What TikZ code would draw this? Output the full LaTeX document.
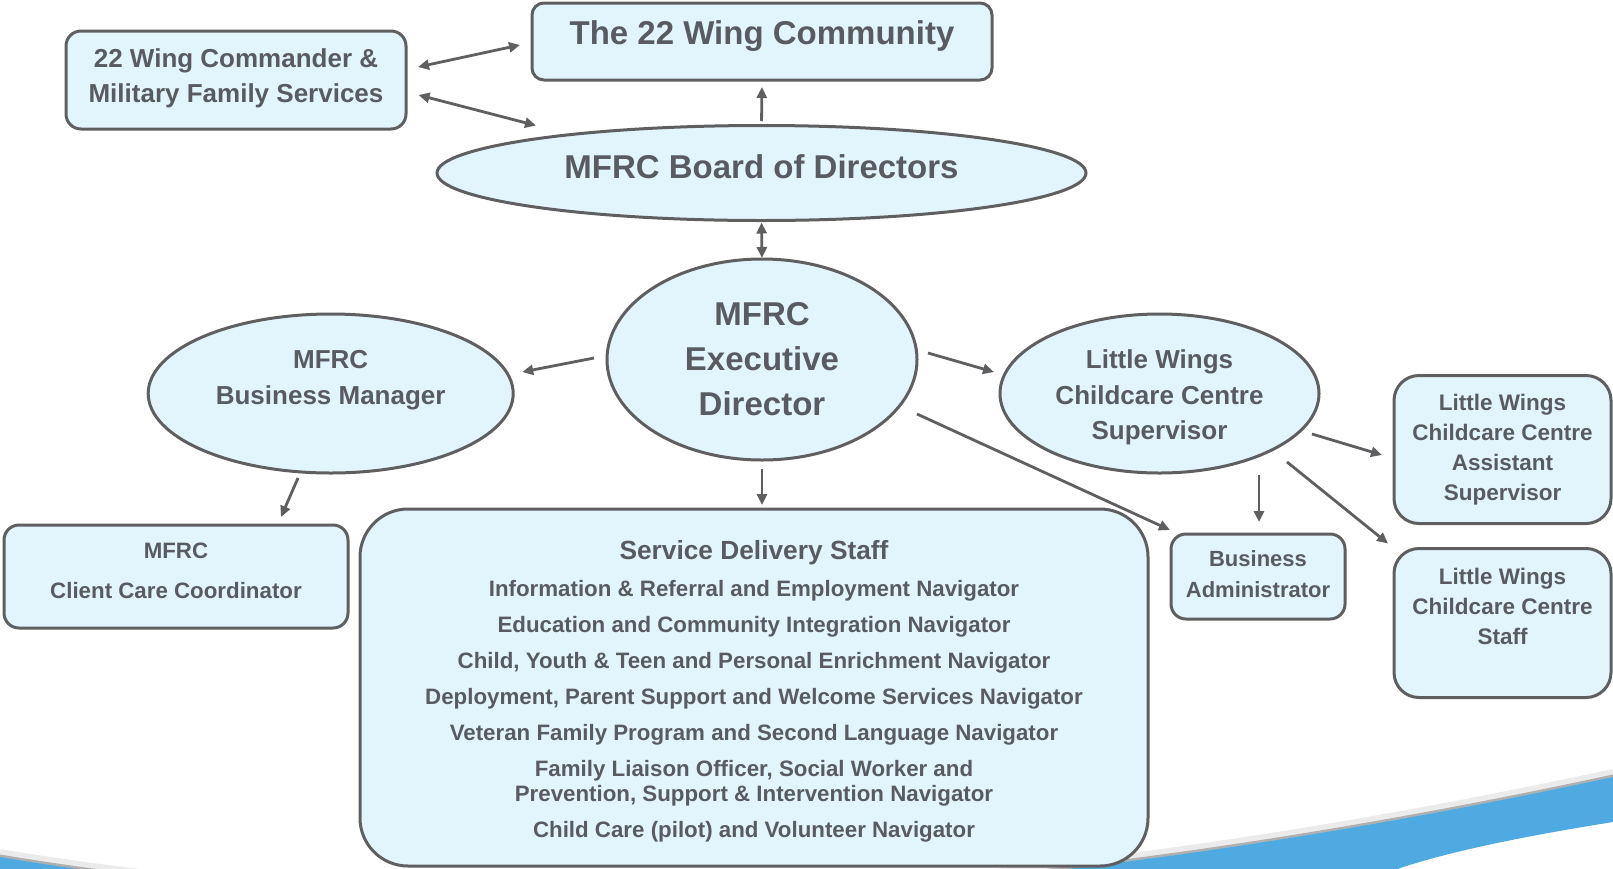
\documentclass[tikz,border=0pt]{standalone}
\usepackage{fontspec}
\setmainfont{Liberation Sans}
\usetikzlibrary{arrows.meta,calc,shapes.geometric}
\definecolor{fillblue}{RGB}{227,245,252}
\definecolor{edgegray}{RGB}{95,95,97}
\definecolor{txtgray}{RGB}{88,92,98}
\definecolor{swooshblue}{RGB}{78,170,225}
\tikzset{
  shapebase/.style={draw=edgegray, line width=3pt, fill=fillblue, text=txtgray,
    font=\bfseries, align=center, inner sep=0pt, outer sep=0pt},
  rbox/.style={shapebase, rectangle, rounded corners=#1},
  rbox/.default=15pt,
  oval/.style={shapebase, ellipse},
  txt/.style={text=txtgray, font=\bfseries, align=center, inner sep=0pt},
  tip/.tip={Triangle[length=11pt,width=10pt]},
  conn/.style={draw=edgegray, line width=2.8pt, -tip},
  biconn/.style={draw=edgegray, line width=2.8pt, tip-tip},
}
\begin{document}
\begin{tikzpicture}[x=1pt,y=-1pt]
\useasboundingbox (0,0) rectangle (1613,868);
\fill[white] (0,0) rectangle (1613,868);
% bottom swoosh
\begin{scope}
  \clip (0,0) rectangle (1613,868);
  \draw[black, opacity=0.08, line width=8pt] (0,853) .. controls (466.7,931) and (1004.3,904.3) .. (1613,773);
  \draw[black, opacity=0.25, line width=3pt] (0,856) .. controls (466.7,934) and (1004.3,907.3) .. (1613,776);
  \fill[swooshblue] (0,857) .. controls (466.7,935) and (1004.3,908.3) .. (1613,777)
     -- (1613,822) .. controls (1500,840) and (1440,855) .. (1400,868)
     -- (1300,930) -- (0,930) -- cycle;
\end{scope}

% shapes
\node[rbox=12pt, minimum width=460, minimum height=77] (community) at (762,41.5) {};
\node[txt, font=\bfseries\fontsize{33}{40}\selectfont] (communityT) at (762,36.5) {The 22 Wing Community};

\node[rbox=15pt, minimum width=340, minimum height=98] (cmdr) at (236,80) {};
\node[txt, font=\bfseries\fontsize{26}{35}\selectfont] (cmdrT) at (236,78)
      {22 Wing Commander \&\\Military Family Services};

\node[oval, minimum width=649, minimum height=95] (board) at (761.5,173) {};
\node[txt, font=\bfseries\fontsize{33}{40}\selectfont] (boardT) at (761.5,167) {MFRC Board of Directors};

\node[oval, minimum width=310, minimum height=201,
      font=\bfseries\fontsize{33}{45}\selectfont] (exec) at (762,359.5)
      {MFRC\\Executive\\Director};

\node[oval, minimum width=365, minimum height=159] (bm) at (330.7,393.5) {};
\node[txt, font=\bfseries\fontsize{26}{36}\selectfont] (bmT) at (330.7,380.5) {MFRC\\Business Manager};

\node[oval, minimum width=319, minimum height=159] (lws) at (1159.5,393.5) {};
\node[txt, font=\bfseries\fontsize{26}{35.5}\selectfont] (lwsT) at (1159.5,397.5)
      {Little Wings\\Childcare Centre\\Supervisor};

\node[rbox=15pt, minimum width=344, minimum height=103] (client) at (176,576.5) {};
\node[txt, font=\bfseries\fontsize{22.3}{40}\selectfont] (clientT) at (176,570.5)
      {MFRC\\Client Care Coordinator};

\node[rbox=48pt, minimum width=788, minimum height=357] (service) at (754,687.5) {};
\node[txt, font=\bfseries\fontsize{22.3}{36}\selectfont] (serviceT) at (754,691)
      {{\fontsize{26.3}{36}\selectfont Service Delivery Staff}\\[1pt]
       Information \& Referral and Employment Navigator\\
       Education and Community Integration Navigator\\
       Child, Youth \& Teen and Personal Enrichment Navigator\\
       Deployment, Parent Support and Welcome Services Navigator\\
       Veteran Family Program and Second Language Navigator\\
       Family Liaison Officer, Social Worker and\\[-11pt]
       Prevention, Support \& Intervention Navigator\\
       Child Care (pilot) and Volunteer Navigator};

\node[rbox=15pt, minimum width=174, minimum height=85] (ba) at (1258,576.5) {};
\node[txt, font=\bfseries\fontsize{22}{31}\selectfont] (baT) at (1258,574.5)
      {Business\\Administrator};

\node[rbox=25pt, minimum width=217, minimum height=148,
      font=\bfseries\fontsize{22.5}{30}\selectfont] (asst) at (1502.5,449.5)
      {Little Wings\\Childcare Centre\\Assistant\\Supervisor};

\node[rbox=25pt, minimum width=217, minimum height=149] (staff) at (1502.5,623) {};
\node[txt, font=\bfseries\fontsize{22.5}{30}\selectfont] (staffT) at (1502.5,606)
      {Little Wings\\Childcare Centre\\Staff};

% connectors
\draw[biconn] ($(cmdr.east)+(12,-13)$) -- ($(community.west)+(-12,3.5)$);
\draw[biconn] ($(cmdr.east)+(12.5,15)$) -- ($(board.north)+(-225.5,0)$);
\draw[conn, shorten <=4.5pt, shorten >=7pt] (board.north) -- (community.south);
\draw[biconn, shorten <=2pt, shorten >=1pt] (board.south) -- (exec.north);
\draw[conn] ($(exec.west)+(-13,-1.5)$) -- ($(bm.east)+(9,-21.5)$);
\draw[conn] ($(exec.east)+(11,-6.5)$) -- ($(lws.west)+(-6,-21.5)$);
\draw[conn, shorten <=9pt, shorten >=4pt] (exec.south) -- (exec.south |- service.north);
\draw[conn] ($(exec.east)+(0,54.5)$) -- ($(ba.north west)+(-1,-4)$);
\draw[conn] ($(bm.south)+(-32.7,5)$) -- ($(client.north)+(105,-8)$);
\draw[conn] ($(lws.south)+(99.5,2)$) -- ($(ba.north)+(1,-12)$);
\draw[conn] ($(lws.east)+(-7,40.5)$) -- ($(asst.west)+(-12,5.5)$);
\draw[conn] ($(lws.east)+(-32,68.5)$) -- ($(staff.north west)+(-6,-5)$);
\end{tikzpicture}
\end{document}
